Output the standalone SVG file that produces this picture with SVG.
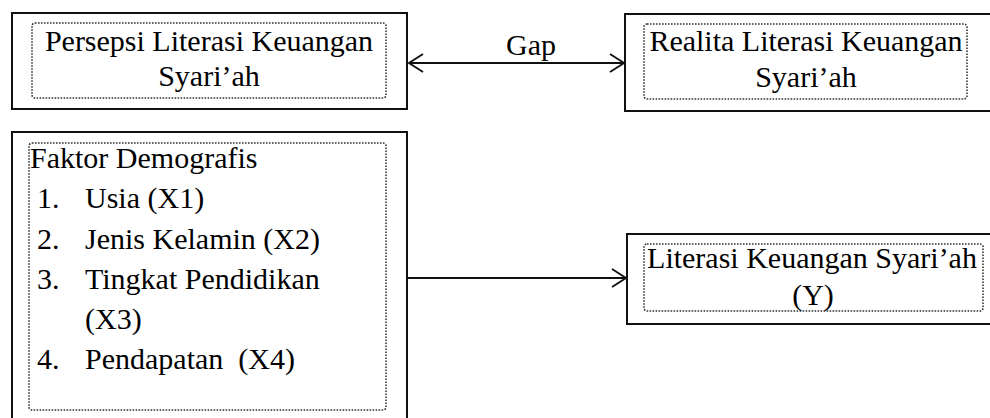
<svg xmlns="http://www.w3.org/2000/svg" width="990" height="418" viewBox="0 0 990 418">
<defs>
<style>
.outer{fill:#fff;stroke:#111;stroke-width:2}
.inner{fill:none;stroke:#333;stroke-width:1.6;stroke-dasharray:1.6 1.4}
text{font-family:"Liberation Serif","Times New Roman",serif;font-size:30px;fill:#000}
.c{text-anchor:middle}
.line{stroke:#111;stroke-width:2;fill:none}
</style>
<marker id="open" viewBox="0 0 16 20" refX="15" refY="10" markerWidth="16" markerHeight="20" markerUnits="userSpaceOnUse" orient="auto-start-reverse">
<path d="M1,1 L15,10 L1,19" fill="none" stroke="#111" stroke-width="1.8"/>
</marker>
</defs>
<rect width="990" height="418" fill="#fff"/>
<g id="persepsi">
<rect class="outer" x="12" y="13" width="395" height="96"/>
<rect class="inner" x="32" y="23" width="354" height="75" rx="3"/>
<text class="c" x="209" y="51">Persepsi Literasi Keuangan</text>
<text class="c" x="209" y="86">Syari’ah</text>
</g>
<g id="realita">
<rect class="outer" x="625" y="14" width="400" height="97"/>
<rect class="inner" x="644" y="24" width="323" height="75" rx="3"/>
<text class="c" x="806" y="51">Realita Literasi Keuangan</text>
<text class="c" x="806" y="87">Syari’ah</text>
</g>
<g id="demografis">
<rect class="outer" x="12" y="132" width="395" height="300"/>
<rect class="inner" x="29" y="143" width="357" height="267" rx="3"/>
<text x="30" y="168">Faktor Demografis</text>
<text x="37" y="208">1.</text><text x="85" y="208">Usia (X1)</text>
<text x="37" y="249">2.</text><text x="85" y="249">Jenis Kelamin (X2)</text>
<text x="37" y="289">3.</text><text x="85" y="289">Tingkat Pendidikan</text>
<text x="85" y="329">(X3)</text>
<text x="37" y="369">4.</text><text x="85" y="369" xml:space="preserve">Pendapatan  (X4)</text>
</g>
<g id="literasi">
<rect class="outer" x="627" y="234" width="400" height="90"/>
<rect class="inner" x="644" y="244" width="339" height="67" rx="3"/>
<text class="c" x="812" y="268">Literasi Keuangan Syari’ah</text>
<text class="c" x="813" y="305">(Y)</text>
</g>
<g id="connectors">
<line class="line" x1="409" y1="63" x2="624" y2="63" marker-start="url(#open)" marker-end="url(#open)"/>
<text class="c" x="531" y="55">Gap</text>
<line class="line" x1="407" y1="278" x2="626" y2="278" marker-end="url(#open)"/>
</g>
</svg>
